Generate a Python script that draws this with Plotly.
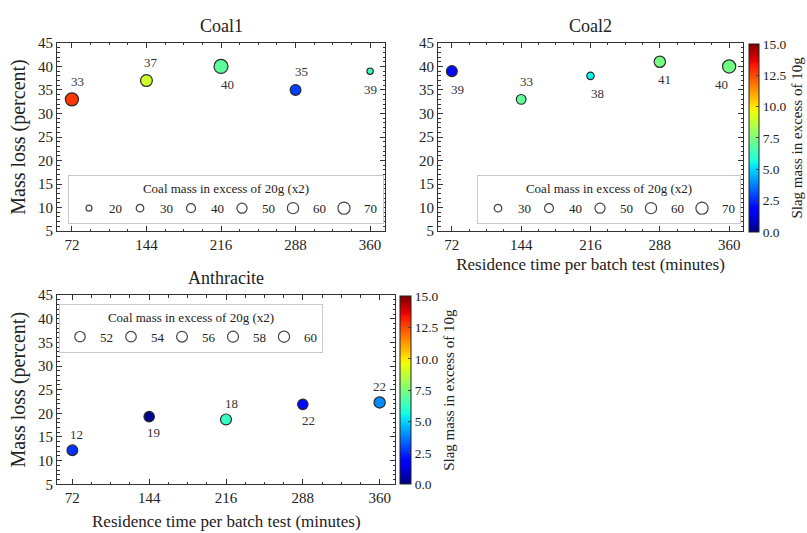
import plotly.graph_objects as go

FONT = "Liberation Serif"

# ---------------- data ----------------
time_min = [72, 144, 216, 288, 360]
x_tick_vals = [72, 144, 216, 288, 360]
y_tick_vals = [5, 10, 15, 20, 25, 30, 35, 40, 45]
cbar_tick_vals = [0.0, 2.5, 5.0, 7.5, 10.0, 12.5, 15.0]

coal1_mass_loss = [33, 37, 40, 35, 39]
coal1_labels = ["33", "37", "40", "35", "39"]
coal1_slag = [12.8, 9.0, 6.9, 2.8, 6.3]
coal1_coal = [80, 66, 90, 56, 22]
coal1_legend_sizes = [20, 30, 40, 50, 60, 70]

coal2_mass_loss = [39, 33, 38, 41, 40]
coal2_labels = ["39", "33", "38", "41", "40"]
coal2_slag = [2.0, 7.0, 5.5, 7.4, 7.3]
coal2_coal = [57, 47, 29, 62, 81]
coal2_legend_sizes = [30, 40, 50, 60, 70]

anth_mass_loss = [12.2, 19.3, 18.7, 21.9, 22.3]
anth_labels = ["12", "19", "18", "22", "22"]
anth_slag = [2.6, 0.2, 6.2, 2.0, 3.9]
anth_coal = [55, 52, 58, 53, 60]
anth_legend_sizes = [52, 54, 56, 58, 60]

LEGEND_TITLE = "Coal mass in excess of 20g (x2)"
Y_TITLE = "Mass loss (percent)"
X_TITLE = "Residence time per batch test (minutes)"
CBAR_TITLE = "Slag mass in excess of 10g"

# ---------------- label placement (style) ----------------
coal1_label_side = [1, 1, -1, 1, -1]
coal1_label_dx = [6, 5, 6, 6, 0]
coal2_label_side = [-1, 1, -1, -1, -1]
coal2_label_dx = [6, 5, 7, 5, -8]
anth_label_side = [1, -1, 1, -1, 1]
anth_label_dx = [4, 4, 5, 6, 0]


# matplotlib "jet" colormap as a plotly colorscale
def jet_rgb(t):
    def interp(pts):
        for (a, va), (b, vb) in zip(pts[:-1], pts[1:]):
            if a <= t <= b:
                return va if b == a else va + (vb - va) * (t - a) / (b - a)
        return pts[-1][1]
    r = interp([(0, 0), (0.35, 0), (0.66, 1), (0.89, 1), (1, 0.5)])
    g = interp([(0, 0), (0.125, 0), (0.375, 1), (0.64, 1), (0.91, 0), (1, 0)])
    b = interp([(0, 0.5), (0.11, 1), (0.34, 1), (0.65, 0), (1, 0)])
    return "rgb(%d,%d,%d)" % (round(r * 255), round(g * 255), round(b * 255))


JET = [[t, jet_rgb(t)] for t in [0, 0.11, 0.125, 0.34, 0.35, 0.375, 0.64, 0.65, 0.66, 0.89, 0.91, 1]]


def diam(s):
    return 1.6 * s ** 0.5 - 1.2


fig = go.Figure()

W, H = 807, 533


def px_x(p):
    return p / W


def px_y(p):
    return 1 - p / H


panels = [
    dict(name="Coal1", xa="x", ya="y", y=coal1_mass_loss, lab=coal1_labels, slag=coal1_slag,
         coal=coal1_coal, leg_sizes=coal1_legend_sizes, side=coal1_label_side, dx=coal1_label_dx,
         dy=18, legend="legend", cbar=None),
    dict(name="Coal2", xa="x2", ya="y2", y=coal2_mass_loss, lab=coal2_labels, slag=coal2_slag,
         coal=coal2_coal, leg_sizes=coal2_legend_sizes, side=coal2_label_side, dx=coal2_label_dx,
         dy=18, legend="legend2",
         cbar=dict(x=px_x(749), y=px_y((37 + 231) / 2), len=(231 - 37) / H, thickness=10)),
    dict(name="Anthracite", xa="x3", ya="y3", y=anth_mass_loss, lab=anth_labels, slag=anth_slag,
         coal=anth_coal, leg_sizes=anth_legend_sizes, side=anth_label_side, dx=anth_label_dx,
         dy=16, legend="legend3",
         cbar=dict(x=px_x(400), y=px_y((297 + 491) / 2), len=(491 - 297) / H, thickness=11)),
]

annotations = []
for p in panels:
    marker = dict(
        size=[diam(s) for s in p["coal"]],
        color=p["slag"], colorscale=JET, cmin=0, cmax=15,
        line=dict(color="#2a2a2a", width=1.2),
        opacity=1,
    )
    if p["cbar"] is not None:
        c = p["cbar"]
        marker["showscale"] = True
        marker["colorbar"] = dict(
            x=c["x"], xanchor="left", y=c["y"], yanchor="middle", len=c["len"], lenmode="fraction",
            thickness=c["thickness"], thicknessmode="pixels", xpad=0, ypad=0,
            outlinewidth=1, outlinecolor="#222222",
            tickvals=cbar_tick_vals, tickformat=".1f", ticks="inside", ticklen=3, tickcolor="#444",
            tickfont=dict(family=FONT, size=13.5, color="#222"),
            title=dict(text=CBAR_TITLE, side="right",
                       font=dict(family=FONT, size=15, color="#222")),
        )
    else:
        marker["showscale"] = False
    fig.add_trace(go.Scatter(
        x=time_min, y=p["y"], mode="markers", marker=marker,
        xaxis=p["xa"], yaxis=p["ya"], showlegend=False, hoverinfo="x+y",
    ))
    # size legend entries
    for s in p["leg_sizes"]:
        fig.add_trace(go.Scatter(
            x=[None], y=[None], mode="markers", name=str(s),
            marker=dict(size=diam(s), color="white", line=dict(color="#444444", width=1.2)),
            xaxis=p["xa"], yaxis=p["ya"], legend=p["legend"], showlegend=True,
        ))
    # value labels
    for xv, yv, t, sd, dx in zip(time_min, p["y"], p["lab"], p["side"], p["dx"]):
        annotations.append(dict(
            x=xv, y=yv, xref=p["xa"], yref=p["ya"], text=t, showarrow=False,
            xshift=dx, yshift=p["dy"] * sd, font=dict(family=FONT, size=13, color="#333"),
        ))

# panel titles
x_dom = {"x": [57, 385], "x2": [438, 743], "x3": [57, 395]}
y_dom = {"y": [36, 230], "y2": [36, 230], "y3": [296, 491]}
for p in panels:
    d = x_dom[p["xa"]]
    yd = y_dom[p["ya"]]
    annotations.append(dict(
        x=px_x((d[0] + d[1]) / 2), y=px_y(yd[0]), xref="paper", yref="paper",
        text=p["name"], showarrow=False, xanchor="center", yanchor="bottom", yshift=5,
        font=dict(family=FONT, size=18, color="#222"),
    ))

# x title of the lower panel (placed as text so it can sit at the very bottom edge)
annotations.append(dict(
    x=px_x((x_dom["x3"][0] + x_dom["x3"][1]) / 2), y=px_y(527), xref="paper", yref="paper",
    text=X_TITLE, showarrow=False, xanchor="center", yanchor="middle", yshift=-2,
    font=dict(family=FONT, size=17, color="#222"),
))


def xaxis(dom, anchor, title=None):
    a = dict(
        domain=[px_x(dom[0]), px_x(dom[1])], anchor=anchor, range=[57.6, 374.4],
        tickvals=x_tick_vals, ticks="inside", ticklen=5, tickcolor="#333", tickwidth=1,
        showline=True, linecolor="#333", linewidth=1, mirror="allticks",
        showgrid=False, zeroline=False,
        minor=dict(ticks="inside", ticklen=2.5, dtick=18, tick0=72, tickcolor="#333", showgrid=False),
        tickfont=dict(family=FONT, size=15, color="#222"),
    )
    if title:
        a["title"] = dict(text=title, font=dict(family=FONT, size=17, color="#222"), standoff=6)
    return a


def yaxis(dom, anchor, title=None):
    a = dict(
        domain=[px_y(dom[1]), px_y(dom[0])], anchor=anchor, range=[5, 45],
        tickvals=y_tick_vals, ticks="inside", ticklen=5, tickcolor="#333", tickwidth=1,
        showline=True, linecolor="#333", linewidth=1, mirror="allticks",
        showgrid=False, zeroline=False,
        minor=dict(ticks="inside", ticklen=2.5, dtick=1, tickcolor="#333", showgrid=False),
        tickfont=dict(family=FONT, size=15, color="#222"),
    )
    if title:
        a["title"] = dict(text=title, font=dict(family=FONT, size=20, color="#222"), standoff=6)
    return a


def legend(xc, yv, yanchor, n_pad):
    pad = "\u00a0" * n_pad
    return dict(
        orientation="h", x=xc, xanchor="center", y=yv, yanchor=yanchor,
        title=dict(text=pad + LEGEND_TITLE + pad, side="top center",
                   font=dict(family=FONT, size=13, color="#222")),
        font=dict(family=FONT, size=13, color="#222"),
        bgcolor="white", bordercolor="#c8c8c8", borderwidth=1,
        itemsizing="trace", entrywidth=6, entrywidthmode="pixels",
        itemclick=False, itemdoubleclick=False,
    )


fig.update_layout(
    width=W, height=H,
    margin=dict(l=0, r=0, t=0, b=0),
    paper_bgcolor="white", plot_bgcolor="white",
    font=dict(family=FONT, color="#222"),
    xaxis=xaxis(x_dom["x"], "y"),
    yaxis=yaxis(y_dom["y"], "x", Y_TITLE),
    xaxis2=xaxis(x_dom["x2"], "y2", X_TITLE),
    yaxis2=yaxis(y_dom["y2"], "x2"),
    xaxis3=xaxis(x_dom["x3"], "y3"),
    yaxis3=yaxis(y_dom["y3"], "x3", Y_TITLE),
    legend=legend(px_x(226), px_y(223), "bottom", 22),
    legend2=legend(px_x(609), px_y(223), "bottom", 14),
    legend3=legend(px_x(191), px_y(305), "top", 14),
    annotations=annotations,
)

fig.write_html(
    "out.html",
    config={"displayModeBar": False},
    post_script="document.body.style.margin='0';document.body.style.overflow='hidden';",
)
